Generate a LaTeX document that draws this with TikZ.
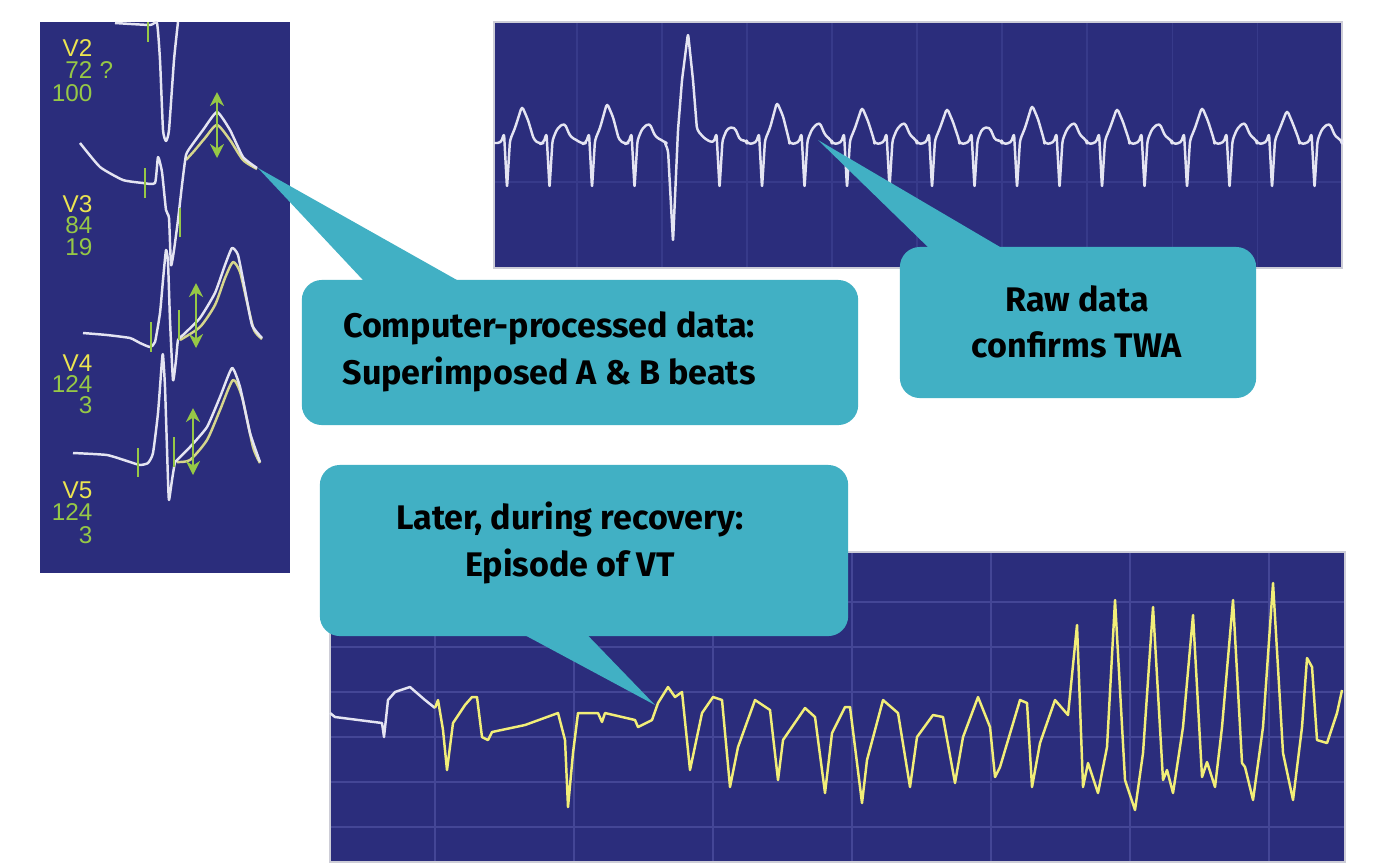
\documentclass[tikz,border=0pt]{standalone}
\usepackage{fontspec}
\setmainfont{Fira Sans}
\newfontfamily\leadfont{Liberation Sans}
\usetikzlibrary{calc,arrows.meta}
\definecolor{panelblue}{RGB}{43,45,124}
\definecolor{gridblue}{RGB}{55,58,138}
\definecolor{gridbluelow}{RGB}{68,70,150}
\definecolor{calloutteal}{RGB}{65,176,196}
\definecolor{leadyellow}{RGB}{236,228,80}
\definecolor{leadgreen}{RGB}{150,200,70}
\definecolor{tracewhite}{RGB}{228,228,242}
\definecolor{traceshadow}{RGB}{214,214,140}
\definecolor{vtyellow}{RGB}{242,238,120}
\definecolor{panelframe}{RGB}{205,205,215}
\tikzset{
  trace/.style={tracewhite, line width=0.7pt, line join=round},
  shadowtrace/.style={traceshadow, line width=0.7pt, line join=round},
  vttrace/.style={vtyellow, line width=0.7pt, line join=round},
  marker/.style={leadgreen, line width=0.8pt},
  span/.style={leadgreen, line width=0.6pt, {Stealth[length=4pt,width=4pt]}-{Stealth[length=4pt,width=4pt]}},
  callout/.style={fill=calloutteal, rounded corners=0.2cm, inner sep=0pt},
  calltext/.style={align=center, font=\fontsize{9.7}{13.2}\selectfont\bfseries},
  leadname/.style={anchor=base east, inner sep=0pt, leadyellow, font=\leadfont\fontsize{6.9}{7}\selectfont},
  leadval/.style={leadname, leadgreen}
}
\begin{document}
\begin{tikzpicture}[x=0.01cm, y=-0.01cm]
  \useasboundingbox (0,0) rectangle (1374,866);
  \fill[white] (0,0) rectangle (1374,866);

  % left panel: superimposed beats
  \fill[panelblue] (40,22) rectangle (290,573);
  \draw[trace] plot[smooth, tension=0.3] coordinates {(115,23) (150,25) (157,23) (160,60) (163,130) (166,141) (169,130) (174,60) (178,22)};
  \draw[shadowtrace] plot[smooth, tension=0.4] coordinates {(186,160) (195,150) (205,138) (217,125) (230,140) (243,160) (257,169)};
  \draw[trace] plot[smooth, tension=0.3] coordinates {(80,143) (100,167) (123,180) (143,183) (155,183) (158,157) (162,172) (166,210) (169,218) (171,265) (174,250) (178,220) (182,185) (186,155) (192,145) (203,130) (217,112) (230,130) (243,157) (257,168)};
  \draw[shadowtrace] plot[smooth, tension=0.4] coordinates {(180,340) (200,327) (215,305) (225,278) (233,262) (240,272) (247,302) (254,330) (262,339)};
  \draw[trace] plot[smooth, tension=0.3] coordinates {(83,333) (107,335) (130,338) (140,343) (150,347) (155,342) (160,313) (163,280) (166,250) (168,262) (170,320) (173,380) (176,360) (178,340) (183,335) (200,318) (215,293) (225,265) (232,248) (238,255) (245,290) (252,325) (262,338)};
  \draw[shadowtrace] plot[smooth, tension=0.4] coordinates {(177,462) (190,460) (207,440) (220,410) (233,380) (242,397) (253,447) (260,463)};
  \draw[trace] plot[smooth, tension=0.3] coordinates {(73,453) (107,455) (130,462) (140,465) (148,463) (153,453) (158,413) (162,360) (163,355) (165,387) (168,480) (169,500) (172,480) (175,462) (177,460) (190,447) (207,427) (220,397) (232,368) (240,387) (250,433) (260,462)};
  \draw[marker] (148,22) -- (148,42);
  \draw[marker] (145,168) -- (145,198);
  \draw[marker] (180,208) -- (180,237);
  \draw[marker] (151,322) -- (151,352);
  \draw[marker] (179,310) -- (179,340);
  \draw[marker] (138,448) -- (138,477);
  \draw[marker] (174,437) -- (174,467);
  \draw[span] (217,92) -- (217,158);
  \draw[span] (196,283) -- (196,348);
  \draw[span] (193,408) -- (193,475);
  \node[leadname] (vtwo) at (93,56) {V2};
  \node[leadval] (vtwoa) at (93,78) {72};
  \node[leadval, anchor=base west] (vtwoq) at (99,78) {?};
  \node[leadval] (vtwob) at (93,101) {100};
  \node[leadname] (vthree) at (93,212) {V3};
  \node[leadval] (vthreea) at (93,233) {84};
  \node[leadval] (vthreeb) at (93,255) {19};
  \node[leadname] (vfour) at (93,371) {V4};
  \node[leadval] (vfoura) at (93,392) {124};
  \node[leadval] (vfourb) at (93,413) {3};
  \node[leadname] (vfive) at (93,498) {V5};
  \node[leadval] (vfivea) at (93,520) {124};
  \node[leadval] (vfiveb) at (93,543) {3};

  % top panel: raw strip
  \fill[panelblue] (494,22) rectangle (1342,268);
  \foreach \gx in {577,662,...,1257} \draw[gridblue, line width=0.3pt] (\gx,22) -- (\gx,268);
  \draw[gridblue, line width=0.3pt] (494,182) -- (1342,182);
  \draw[panelframe, line width=0.6pt] (494,22) rectangle (1342,268);
  \draw[trace, rounded corners=1pt] (494,143)
    \foreach \bx/\tp in {507/106,549.5/123,592/103,634.5/123} {-- (\bx-6,143) -- (\bx-3,133) -- (\bx,188) -- (\bx+3,140) -- (\bx+8,128) -- (\bx+15,\tp) -- (\bx+21,\tp+14) -- (\bx+27,140) -- (\bx+33,144)}
    -- (664,141) -- (668,150) -- (673,242) -- (678,130) -- (682,80) -- (688,33) -- (693,80) -- (697,130) -- (705,139)
    \foreach \bx/\tp in {719.5/127,762/102,804.5/122,847/107,889.5/122,932/108,974.5/127,1017/105,1059.5/122,1102/108,1144.5/123,1187/107,1229.5/122,1272/110,1314.5/123} {-- (\bx-6,143) -- (\bx-3,133) -- (\bx,188) -- (\bx+3,140) -- (\bx+8,128) -- (\bx+15,\tp) -- (\bx+21,\tp+14) -- (\bx+27,140) -- (\bx+27.5,144)}
    -- (1342,143);

  % bottom panel: recovery strip
  \fill[panelblue] (330,552) rectangle (1345,862);
  \foreach \gx in {435,574,...,1270} \draw[gridbluelow, line width=0.35pt] (\gx,552) -- (\gx,862);
  \foreach \gy in {602,647,...,827} \draw[gridbluelow, line width=0.35pt] (330,\gy) -- (1345,\gy);
  \draw[panelframe, line width=0.6pt] (330,552) rectangle (1345,862);
  \draw[trace] (330,713) -- (335,717) -- (382,723) -- (384,737) -- (388,700) -- (395,692) -- (410,687) -- (425,700) -- (435,708);
  \draw[vttrace] (435,708) -- (438,700) -- (443,730) -- (447,770) -- (453,723) -- (465,705) -- (472,697) -- (477,697) -- (482,737) -- (488,740) -- (492,732) -- (525,725) -- (558,713) -- (565,740) -- (568,807) -- (573,753) -- (578,713) -- (598,713) -- (602,722) -- (605,713) -- (635,720) -- (638,727) -- (652,720) -- (658,703) -- (668,687) -- (675,697) -- (682,692) -- (690,770) -- (702,713) -- (713,697) -- (722,700) -- (730,787) -- (738,747) -- (755,700) -- (770,710) -- (778,780) -- (783,740) -- (805,708) -- (815,717) -- (825,793) -- (832,733) -- (845,707) -- (850,707) -- (862,803) -- (867,760) -- (883,700) -- (898,713) -- (910,787) -- (917,737) -- (933,715) -- (943,717) -- (955,783) -- (963,737) -- (978,697) -- (990,727) -- (995,777) -- (1000,767) -- (1020,700) -- (1027,703) -- (1032,787) -- (1040,743) -- (1055,700) -- (1068,715) -- (1077,625) -- (1083,787) -- (1088,763) -- (1098,793) -- (1107,747) -- (1115,600) -- (1125,780) -- (1135,810) -- (1143,753) -- (1153,607) -- (1163,780) -- (1167,770) -- (1173,793) -- (1183,727) -- (1193,615) -- (1202,777) -- (1207,762) -- (1215,787) -- (1222,727) -- (1233,600) -- (1242,763) -- (1245,767) -- (1253,800) -- (1263,727) -- (1273,583) -- (1283,753) -- (1293,800) -- (1302,727) -- (1307,658) -- (1312,667) -- (1317,740) -- (1327,743) -- (1337,713) -- (1342,690);

  % callouts
  \coordinate (tipbeats) at (258,168);
  \coordinate (tipraw) at (818,140);
  \coordinate (tipvt) at (655,705);
  \node[callout, minimum width=5.56cm, minimum height=1.45cm] (beats) at (580,352.5) {};
  \node[callout, minimum width=3.56cm, minimum height=1.51cm] (raw) at (1078,322.5) {};
  \node[callout, minimum width=5.28cm, minimum height=1.71cm] (vt) at (584,550.5) {};
  \fill[calloutteal] (tipbeats) -- ($(beats.north west)+(63,2)$) -- ($(beats.north west)+(158,2)$) -- cycle;
  \fill[calloutteal] (tipraw) -- ($(raw.north west)+(30,2)$) -- ($(raw.north west)+(103,2)$) -- cycle;
  \fill[calloutteal] (tipvt) -- ($(vt.south west)+(205,-2)$) -- ($(vt.south west)+(268,-2)$) -- cycle;
  \node[calltext] (beatstext) at (549,352) {Computer-processed data:\\Superimposed A \& B beats};
  \node[calltext] (rawtext) at (1077,322) {Raw data\\confirms TWA};
  \node[calltext] (vttext) at (570,543) {Later, during recovery:\\Episode of VT};
\end{tikzpicture}
\end{document}
